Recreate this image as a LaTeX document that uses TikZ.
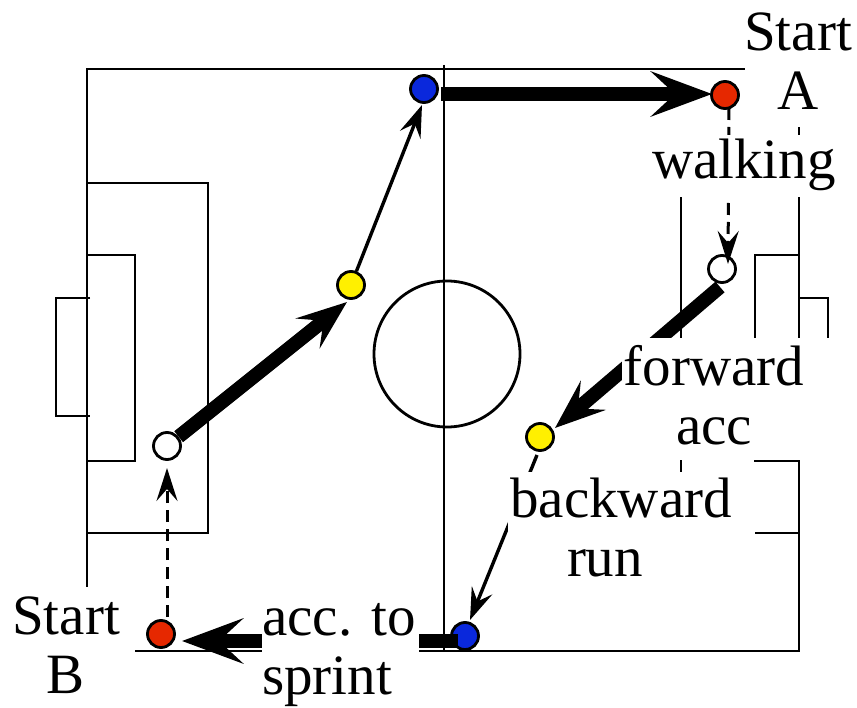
\documentclass[tikz,border=0pt]{standalone}
\usepackage{fontspec}
\setmainfont{Liberation Serif}
\usetikzlibrary{arrows.meta}
\definecolor{redc}{HTML}{E62800}
\definecolor{bluec}{HTML}{0A28DC}
\definecolor{yellowc}{HTML}{FFF000}
\tikzset{
  field/.style={line width=2.8pt,black},
  dot/.style={circle,draw=black,line width=2.8pt,minimum size=27pt,inner sep=0pt},
  heavy/.style={line width=14pt,-{Stealth[length=61pt,width=45pt,inset=24pt]}},
  heavyd/.style={line width=14pt,-{Stealth[length=50pt,width=38pt,inset=20pt]}},
  slim/.style={line width=3.4pt,-{Stealth[length=32pt,width=22pt,inset=12pt]}},
  dashy/.style={line width=3pt,dash pattern=on 12pt off 7pt,-{Stealth[length=33pt,width=21pt,inset=12pt]}},
  lab/.style={font=\fontsize{57}{59}\selectfont,align=center,inner sep=0pt,text=black},
  labl/.style={font=\fontsize{57}{59}\selectfont,align=left,inner sep=0pt,text=black},
  mask/.style={fill=white,draw=none}
}
\begin{document}
\begin{tikzpicture}[x=1pt,y=-1pt]
\useasboundingbox (0,0) rectangle (857,708);
% pitch
\draw[field] (87,69) rectangle (799,651);
\draw[field] (444,65) -- (444,651);
\draw[field] (447,354) circle (73);
\draw[field] (87,183) -- (208,183) -- (208,533) -- (87,533);
\draw[field] (87,255) -- (135,255) -- (135,461) -- (87,461);
\draw[field] (90,298) -- (56,298) -- (56,416) -- (90,416);
\draw[field] (799,183) -- (681,183) -- (681,533) -- (799,533);
\draw[field] (799,255) -- (755,255) -- (755,461) -- (799,461);
\draw[field] (799,298) -- (828,298) -- (828,416) -- (799,416);
% stations
\node[dot,fill=bluec] (b1) at (424,89) {};
\node[dot,fill=redc] (r1) at (725,95) {};
\node[dot,fill=yellowc] (y1) at (351,285) {};
\node[dot,fill=white] (w1) at (167,446) {};
\node[dot,fill=redc] (r2) at (161,634) {};
\node[dot,fill=bluec] (b2) at (465,636) {};
\node[dot,fill=yellowc] (y2) at (540,437) {};
\node[dot,fill=white] (w2) at (722,269) {};
% free ends
\coordinate (a1s) at (441,94);
\coordinate (a1e) at (712,94);
\coordinate (a2s) at (729,108);
\coordinate (a2e) at (728,264);
\coordinate (a3s) at (458,641);
\coordinate (a3e) at (182,641);
\coordinate (a4s) at (167,617);
\coordinate (a4e) at (167,468);
\coordinate (a5e) at (347,302);
\coordinate (a6e) at (422,105);
\coordinate (a7s) at (720,287);
\coordinate (a7e) at (555,428);
\coordinate (a8s) at (537,455);
\coordinate (a8e) at (470,620);
% connectors
\draw[heavy] (a1s) -- (a1e);
\draw[dashy] (a2s) -- (a2e);
\begin{scope}
\clip (0,283) rectangle (725,708);
\draw[heavyd] (a7s) -- (a7e);
\end{scope}
\draw[heavy] (a3s) -- (a3e);
\draw[dashy] (a4s) -- (a4e);
\draw[heavyd] (w1) -- (a5e);
\draw[slim] (y1) -- (a6e);
\draw[slim] (a8s) -- (a8e);
% white grounds of the labels
\fill[mask] (745,0) rectangle (857,127);
\fill[mask] (652,135) rectangle (836,197);
\fill[mask] (622,338) rectangle (832,460);
\fill[mask] (508,472) rectangle (755,590);
\fill[mask] (0,587) rectangle (135,708);
\fill[mask] (262,600) rectangle (419,708);
% labels
\node[lab] (tA) at (798,61) {Start\\A};
\node[lab] (tW) at (744,165) {walking};
\node[lab] (tF) at (714,395) {forward\\acc};
\node[lab] (tB) at (621,528) {backward\\run\hspace*{32pt}};
\node[lab] (tS) at (66,645) {Start\\B};
\node[labl] (tC) at (339,655) {acc. to\\sprint};
\end{tikzpicture}
\end{document}
